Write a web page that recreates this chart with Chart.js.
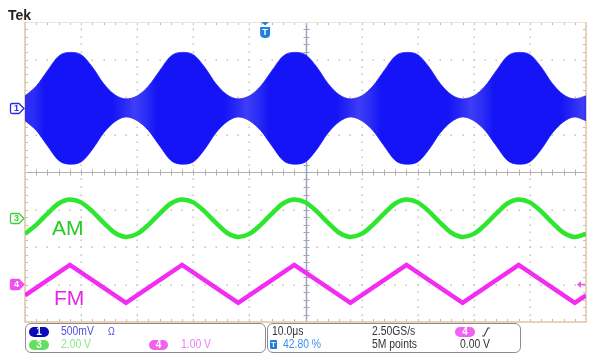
<!DOCTYPE html>
<html><head><meta charset="utf-8">
<script src="https://cdn.jsdelivr.net/npm/chart.js@4.4.1/dist/chart.umd.min.js"></script>
<style>
html,body{margin:0;padding:0;background:#fff;}
#wrap{position:relative;width:602px;height:364px;overflow:hidden;font-family:"Liberation Sans",Arial,sans-serif;}
#c{position:absolute;left:0;top:0;}
.t{position:absolute;white-space:nowrap;font-size:12.5px;line-height:13px;color:#333;transform:scaleX(0.83);transform-origin:0 0;}
.box{position:absolute;border:1.5px solid #8c8c8c;border-radius:6px;box-sizing:border-box;}
.pill{position:absolute;height:10px;width:20px;border-radius:5px;color:#fff;font-family:"Liberation Sans",Arial,sans-serif;font-size:10px;line-height:10px;text-align:center;font-weight:bold;}
.big{position:absolute;font-family:"Liberation Sans",Arial,sans-serif;font-size:21px;line-height:21px;}
</style></head>
<body><div id="wrap"><canvas id="c" width="602" height="364"></canvas>
<div class="big" style="left:8px;top:8px;font-size:14px;line-height:14px;font-weight:bold;color:#222;">Tek</div>
<div class="big" style="left:52px;top:217px;color:#22cc22;">AM</div>
<div class="big" style="left:54px;top:287px;color:#e526e5;">FM</div>
<div class="box" style="left:25px;top:323px;width:241px;height:30px;"></div>
<div class="box" style="left:267px;top:323px;width:254px;height:30px;"></div>
<div class="pill" style="left:29px;top:327px;background:#0b0bb8;">1</div>
<div class="t" style="left:61px;top:325px;color:#5050e0;">500mV</div>
<div class="t" style="left:108px;top:325px;color:#5050e0;font-size:11px;">Ω</div>
<div class="pill" style="left:29px;top:340px;background:#62e062;">3</div>
<div class="t" style="left:61px;top:338px;color:#86ea86;">2.00 V</div>
<div class="pill" style="left:149px;top:340px;width:19px;background:#f262f2;">4</div>
<div class="t" style="left:181px;top:338px;color:#f07af0;">1.00 V</div>
<div class="t" style="left:272px;top:325px;">10.0μs</div>
<div style="position:absolute;left:270px;top:340px;width:7px;height:9px;background:#1e7ee0;border-radius:1px;color:#fff;font:bold 8px/9px 'Liberation Sans',Arial,sans-serif;text-align:center;">T</div>
<div class="t" style="left:283px;top:338px;color:#3d8ee6;">42.80 %</div>
<div class="t" style="left:372px;top:325px;">2.50GS/s</div>
<div class="t" style="left:372px;top:338px;">5M points</div>
<div class="pill" style="left:455px;top:327px;background:#f262f2;">4</div>
<svg style="position:absolute;left:481px;top:327px;" width="10" height="10"><polyline points="1,9 3,9 7,1 9,1" fill="none" stroke="#444" stroke-width="1.2"/></svg>
<div class="t" style="left:460px;top:338px;">0.00 V</div>
</div>
<script>
// time axis (microseconds from left edge of screen, 10 us/div)
const timeUs = [0,2,4,6,8,10,12,14,16,18,20,22,24,26,28,30,32,34,36,38,40,42,44,46,48,50,52,54,56,58,60,62,64,66,68,70,72,74,76,78,80,82,84,86,88,90,92,94,96,98,100];
// channel 1 (AM carrier) envelope, in screen divisions
const ch1Upper = [2.03,2.29,2.70,3.09,3.19,3.13,2.80,2.36,2.06,1.95,
                  2.03,2.29,2.70,3.09,3.19,3.13,2.80,2.36,2.06,1.95,
                  2.03,2.29,2.70,3.09,3.19,3.13,2.80,2.36,2.06,1.95,
                  2.03,2.29,2.70,3.09,3.19,3.13,2.80,2.36,2.06,1.95,
                  2.03,2.29,2.70,3.09,3.19,3.13,2.80,2.36,2.06,1.95,2.03];
const ch1Lower = [1.37,1.11,0.70,0.31,0.21,0.27,0.60,1.04,1.34,1.47,
                  1.37,1.11,0.70,0.31,0.21,0.27,0.60,1.04,1.34,1.47,
                  1.37,1.11,0.70,0.31,0.21,0.27,0.60,1.04,1.34,1.47,
                  1.37,1.11,0.70,0.31,0.21,0.27,0.60,1.04,1.34,1.47,
                  1.37,1.11,0.70,0.31,0.21,0.27,0.60,1.04,1.34,1.47,1.37];
// channel 3 (AM modulating sine), divisions
const ch3 = [-1.65,-1.41,-1.11,-0.84,-0.73,-0.81,-1.05,-1.35,-1.62,-1.73,
             -1.65,-1.41,-1.11,-0.84,-0.73,-0.81,-1.05,-1.35,-1.62,-1.73,
             -1.65,-1.41,-1.11,-0.84,-0.73,-0.81,-1.05,-1.35,-1.62,-1.73,
             -1.65,-1.41,-1.11,-0.84,-0.73,-0.81,-1.05,-1.35,-1.62,-1.73,
             -1.65,-1.41,-1.11,-0.84,-0.73,-0.81,-1.05,-1.35,-1.62,-1.73,-1.65];
// channel 4 (FM triangle), vertices
const ch4Time = [0,8,18,28,38,48,58,68,78,88,98,100];
const ch4 = [-3.29,-2.48,-3.49,-2.48,-3.49,-2.48,-3.49,-2.48,-3.49,-2.48,-3.49,-3.29];
// channel ground markers and trigger
const ch1Offset = 1.70, ch3Offset = -1.23, ch4Offset = -2.99;
const triggerPosUs = 42.8;
const triggerLevel = -2.99;

const pts = (xs, ys) => xs.map((t, i) => ({x: t, y: ys[i]}));

function envFill(ctx) {
  const chart = ctx.chart, a = chart.chartArea;
  if (!a) return '#1616f4';
  const xs = chart.scales.x;
  const g = chart.ctx.createLinearGradient(a.left, 0, a.right, 0);
  timeUs.forEach((t, i) => {
    const h = (ch1Upper[i] - ch1Lower[i]) / 2;
    const f = Math.max(0, Math.min(1, (0.45 - h) / 0.2));
    const r = Math.round(20 + f * 42);
    const p = (xs.getPixelForValue(t + 1.5) - a.left) / (a.right - a.left);
    g.addColorStop(Math.max(0, Math.min(1, p)), `rgb(${r},${r},246)`);
  });
  return g;
}

const graticule = {
  id: 'graticule',
  beforeDatasetsDraw(chart) {
    const {ctx, chartArea: a, scales: {x, y}} = chart;
    ctx.save();
    ctx.fillStyle = '#c2c2c2';
    for (let d = 1; d < 10; d++) {
      if (d === 5) continue;
      const px = Math.round(x.getPixelForValue(d * 10));
      for (let m = 1; m < 40; m++) {
        const py = Math.round(y.getPixelForValue(-4 + m * 0.2));
        ctx.fillRect(px - 0.5, py - 0.5, 1.5, 1.5);
      }
    }
    for (let d = -3; d <= 3; d++) {
      if (d === 0) continue;
      const py = Math.round(y.getPixelForValue(d));
      for (let m = 1; m < 50; m++) {
        const px = Math.round(x.getPixelForValue(m * 2));
        ctx.fillRect(px - 0.5, py - 0.5, 1.5, 1.5);
      }
    }
    // center cross
    const cy = Math.round(y.getPixelForValue(0)) + 0.5;
    const cx = Math.round(x.getPixelForValue(50)) + 0.5;
    ctx.strokeStyle = '#b0b0b0'; ctx.lineWidth = 1;
    ctx.beginPath(); ctx.moveTo(a.left, cy); ctx.lineTo(a.right, cy); ctx.stroke();
    ctx.beginPath();
    for (let m = 1; m < 50; m++) {
      const px = Math.round(x.getPixelForValue(m * 2)) + 0.5;
      ctx.moveTo(px, cy - 3); ctx.lineTo(px, cy + 3);
    }
    ctx.stroke();
    ctx.strokeStyle = '#9ea4ba'; ctx.lineWidth = 1.5;
    ctx.beginPath(); ctx.moveTo(cx, a.top); ctx.lineTo(cx, a.bottom); ctx.stroke();
    ctx.lineWidth = 1;
    ctx.beginPath();
    for (let m = 1; m < 40; m++) {
      const py = Math.round(y.getPixelForValue(-4 + m * 0.2)) + 0.5;
      ctx.moveTo(cx - 3, py); ctx.lineTo(cx + 3, py);
    }
    ctx.stroke();
    // border ticks
    ctx.strokeStyle = '#bdbdbd'; ctx.lineWidth = 1;
    ctx.beginPath();
    for (let m = 1; m < 50; m++) {
      const px = Math.round(x.getPixelForValue(m * 2)) + 0.5;
      ctx.moveTo(px, a.top); ctx.lineTo(px, a.top + 3);
      ctx.moveTo(px, a.bottom); ctx.lineTo(px, a.bottom - 3);
    }
    for (let m = 1; m < 40; m++) {
      const py = Math.round(y.getPixelForValue(-4 + m * 0.2)) + 0.5;
      ctx.moveTo(a.left, py); ctx.lineTo(a.left + 3, py);
      ctx.moveTo(a.right, py); ctx.lineTo(a.right - 3, py);
    }
    ctx.stroke();
    // border
    ctx.strokeStyle = '#f0e2d4'; ctx.lineWidth = 1;
    ctx.beginPath(); ctx.moveTo(a.left, a.top + 0.5); ctx.lineTo(a.right, a.top + 0.5); ctx.stroke();
    ctx.strokeStyle = '#e2c3a3'; ctx.lineWidth = 1.5;
    ctx.beginPath();
    ctx.moveTo(a.left, a.top); ctx.lineTo(a.left, a.bottom); ctx.lineTo(a.right, a.bottom); ctx.lineTo(a.right, a.top);
    ctx.stroke();
    ctx.restore();
  },
  afterDraw(chart) {
    const {ctx, chartArea: a, scales: {x, y}} = chart;
    ctx.save();
    const marker = (val, color, label, filled) => {
      const py = Math.round(y.getPixelForValue(val)) + 0.5;
      ctx.beginPath();
      ctx.moveTo(12, py - 5); ctx.lineTo(19, py - 5); ctx.lineTo(24, py); ctx.lineTo(19, py + 5); ctx.lineTo(12, py + 5);
      ctx.quadraticCurveTo(10.5, py + 5, 10.5, py + 3.5); ctx.lineTo(10.5, py - 3.5);
      ctx.quadraticCurveTo(10.5, py - 5, 12, py - 5); ctx.closePath();
      ctx.fillStyle = filled ? color : '#fff'; ctx.fill();
      ctx.strokeStyle = color; ctx.lineWidth = 1.3; ctx.stroke();
      ctx.fillStyle = filled ? '#fff' : color;
      ctx.font = 'bold 9px "Liberation Sans", Arial, sans-serif';
      ctx.textAlign = 'center'; ctx.textBaseline = 'middle';
      ctx.fillText(label, 16.5, py + 0.5);
    };
    marker(ch1Offset, '#2a2ae0', '1', false);
    marker(ch3Offset, '#3ccf3c', '3', false);
    marker(ch4Offset, '#f050f0', '4', true);
    // trigger position marker
    const tx = x.getPixelForValue(triggerPosUs);
    ctx.fillStyle = '#1f80e0';
    ctx.beginPath(); ctx.moveTo(tx - 4, a.top); ctx.lineTo(tx + 4, a.top); ctx.lineTo(tx, a.top + 3.5); ctx.closePath(); ctx.fill();
    ctx.beginPath();
    ctx.moveTo(tx - 5, a.top + 5); ctx.lineTo(tx + 5, a.top + 5); ctx.lineTo(tx + 5, a.top + 12);
    ctx.quadraticCurveTo(tx + 5, a.top + 16, tx, a.top + 16); ctx.quadraticCurveTo(tx - 5, a.top + 16, tx - 5, a.top + 12);
    ctx.closePath(); ctx.fill();
    ctx.fillStyle = '#fff'; ctx.font = 'bold 9px "Liberation Sans", Arial, sans-serif';
    ctx.textAlign = 'center'; ctx.textBaseline = 'middle';
    ctx.fillText('T', tx, a.top + 10.5);
    // trigger level arrow
    const ly = Math.round(y.getPixelForValue(triggerLevel)) + 0.5;
    ctx.strokeStyle = '#f050f0'; ctx.fillStyle = '#f050f0'; ctx.lineWidth = 1.5;
    ctx.beginPath(); ctx.moveTo(a.right - 1, ly); ctx.lineTo(a.right - 7, ly); ctx.stroke();
    ctx.beginPath(); ctx.moveTo(a.right - 9, ly); ctx.lineTo(a.right - 5, ly - 3.5); ctx.lineTo(a.right - 5, ly + 3.5); ctx.closePath(); ctx.fill();
    ctx.restore();
  }
};

new Chart(document.getElementById('c'), {
  type: 'line',
  data: {
    datasets: [
      {label: 'FM', data: pts(ch4Time, ch4), borderColor: '#f22cf2', borderWidth: 4.5, tension: 0, fill: false, borderJoinStyle: 'miter'},
      {label: 'AM', data: pts(timeUs, ch3), borderColor: '#2ee62e', borderWidth: 4.5, cubicInterpolationMode: 'monotone', fill: false},
      {label: 'CH1 upper', data: pts(timeUs, ch1Upper), borderColor: 'rgba(28,28,244,0.8)', borderWidth: 1, backgroundColor: envFill, cubicInterpolationMode: 'monotone', fill: '+1'},
      {label: 'CH1 lower', data: pts(timeUs, ch1Lower), borderColor: 'rgba(28,28,244,0.8)', borderWidth: 1, cubicInterpolationMode: 'monotone', fill: false}
    ]
  },
  options: {
    responsive: false,
    animation: false,
    events: [],
    layout: {padding: {left: 25, right: 16, top: 22, bottom: 42}},
    elements: {point: {radius: 0}},
    plugins: {legend: {display: false}, tooltip: {enabled: false}},
    scales: {
      x: {type: 'linear', min: 0, max: 100, display: false},
      y: {type: 'linear', min: -4, max: 4, display: false}
    }
  },
  plugins: [graticule]
});
</script>
</body></html>
